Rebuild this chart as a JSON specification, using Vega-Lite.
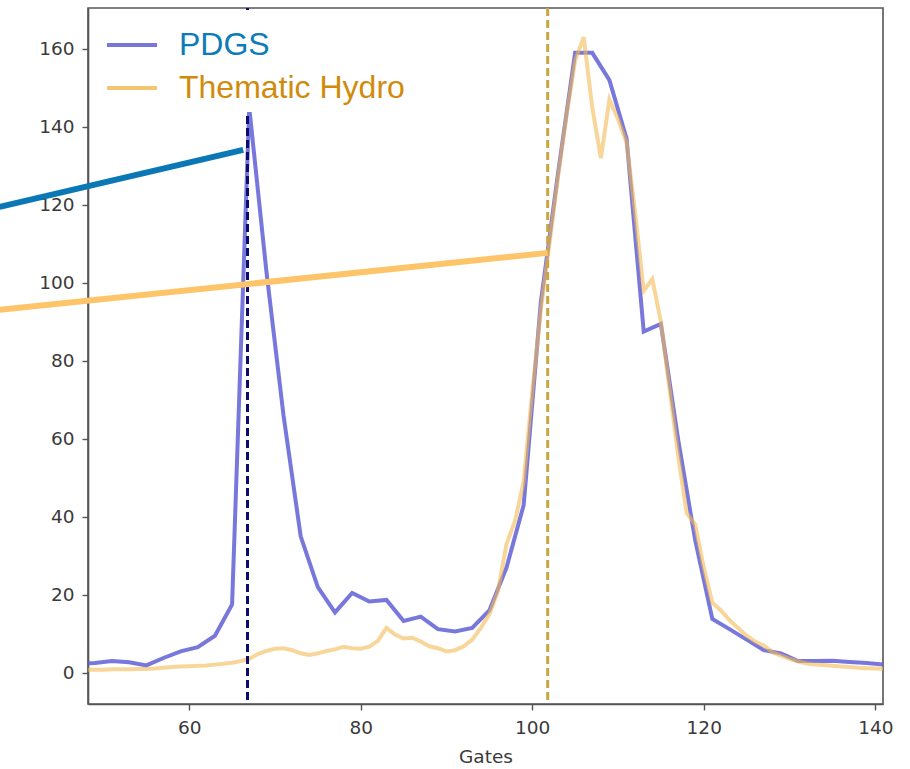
{
  "$schema": "https://vega.github.io/schema/vega-lite/v6.json",
  "width": 795,
  "height": 696,
  "autosize": {"type": "none"},
  "padding": {"left": 88, "top": 8, "right": 27, "bottom": 65},
  "background": "white",
  "config": {
    "view": {"stroke": "#555555", "strokeWidth": 1.6},
    "axis": {"grid": false, "domainColor": "#555555", "domainWidth": 1.6, "tickColor": "#555555", "tickWidth": 1.4, "tickSize": 6, "labelFont": "DejaVu Sans", "labelFontSize": 18.5, "labelColor": "#3a3a3a", "labelPadding": 8, "titleFont": "DejaVu Sans", "titleFontSize": 18.5, "titleFontWeight": "normal", "titleColor": "#3a3a3a"}
  },
  "datasets": {
    "pdgs": [
      {"gate": 47, "value": 2.3, "series": "PDGS"}, {"gate": 49, "value": 2.5, "series": "PDGS"}, {"gate": 51, "value": 3.0, "series": "PDGS"}, {"gate": 53, "value": 2.7, "series": "PDGS"}, {"gate": 55, "value": 1.9, "series": "PDGS"}, {"gate": 57, "value": 3.8, "series": "PDGS"}, {"gate": 59, "value": 5.5, "series": "PDGS"}, {"gate": 61, "value": 6.6, "series": "PDGS"}, {"gate": 63, "value": 9.5, "series": "PDGS"}, {"gate": 65, "value": 17.5, "series": "PDGS"}, {"gate": 67, "value": 145, "series": "PDGS"}, {"gate": 69, "value": 103, "series": "PDGS"}, {"gate": 71, "value": 66, "series": "PDGS"}, {"gate": 73, "value": 35, "series": "PDGS"}, {"gate": 75, "value": 22, "series": "PDGS"}, {"gate": 77, "value": 15.5, "series": "PDGS"}, {"gate": 79, "value": 20.5, "series": "PDGS"}, {"gate": 81, "value": 18.3, "series": "PDGS"}, {"gate": 83, "value": 18.7, "series": "PDGS"}, {"gate": 85, "value": 13.3, "series": "PDGS"}, {"gate": 87, "value": 14.4, "series": "PDGS"}, {"gate": 89, "value": 11.2, "series": "PDGS"}, {"gate": 91, "value": 10.6, "series": "PDGS"}, {"gate": 93, "value": 11.5, "series": "PDGS"}, {"gate": 95, "value": 16, "series": "PDGS"}, {"gate": 97, "value": 27, "series": "PDGS"}, {"gate": 99, "value": 43, "series": "PDGS"}, {"gate": 101, "value": 95, "series": "PDGS"}, {"gate": 103, "value": 128, "series": "PDGS"}, {"gate": 105, "value": 159, "series": "PDGS"}, {"gate": 107, "value": 159, "series": "PDGS"}, {"gate": 109, "value": 152, "series": "PDGS"}, {"gate": 111, "value": 137, "series": "PDGS"}, {"gate": 113, "value": 87.5, "series": "PDGS"}, {"gate": 115, "value": 89.5, "series": "PDGS"}, {"gate": 117, "value": 60, "series": "PDGS"}, {"gate": 119, "value": 34, "series": "PDGS"}, {"gate": 121, "value": 13.8, "series": "PDGS"}, {"gate": 123, "value": 11.2, "series": "PDGS"}, {"gate": 125, "value": 8.5, "series": "PDGS"}, {"gate": 127, "value": 5.8, "series": "PDGS"}, {"gate": 129, "value": 5.0, "series": "PDGS"}, {"gate": 131, "value": 3.0, "series": "PDGS"}, {"gate": 133, "value": 3.0, "series": "PDGS"}, {"gate": 135, "value": 3.1, "series": "PDGS"}, {"gate": 137, "value": 2.8, "series": "PDGS"}, {"gate": 139, "value": 2.5, "series": "PDGS"}, {"gate": 141, "value": 2.1, "series": "PDGS"}, {"gate": 143, "value": 2.0, "series": "PDGS"}
    ],
    "hydro": [
      {"gate": 47, "value": 0.8, "series": "Thematic Hydro"}, {"gate": 48, "value": 0.8, "series": "Thematic Hydro"}, {"gate": 49, "value": 0.8, "series": "Thematic Hydro"}, {"gate": 50, "value": 0.8, "series": "Thematic Hydro"}, {"gate": 51, "value": 0.9, "series": "Thematic Hydro"}, {"gate": 52, "value": 0.9, "series": "Thematic Hydro"}, {"gate": 53, "value": 0.9, "series": "Thematic Hydro"}, {"gate": 54, "value": 1.0, "series": "Thematic Hydro"}, {"gate": 55, "value": 1.0, "series": "Thematic Hydro"}, {"gate": 56, "value": 1.1, "series": "Thematic Hydro"}, {"gate": 57, "value": 1.3, "series": "Thematic Hydro"}, {"gate": 58, "value": 1.5, "series": "Thematic Hydro"}, {"gate": 59, "value": 1.6, "series": "Thematic Hydro"}, {"gate": 60, "value": 1.7, "series": "Thematic Hydro"}, {"gate": 61, "value": 1.8, "series": "Thematic Hydro"}, {"gate": 62, "value": 1.9, "series": "Thematic Hydro"}, {"gate": 63, "value": 2.1, "series": "Thematic Hydro"}, {"gate": 64, "value": 2.3, "series": "Thematic Hydro"}, {"gate": 65, "value": 2.6, "series": "Thematic Hydro"}, {"gate": 66, "value": 3.0, "series": "Thematic Hydro"}, {"gate": 67, "value": 3.6, "series": "Thematic Hydro"}, {"gate": 68, "value": 4.8, "series": "Thematic Hydro"}, {"gate": 69, "value": 5.6, "series": "Thematic Hydro"}, {"gate": 70, "value": 6.2, "series": "Thematic Hydro"}, {"gate": 71, "value": 6.3, "series": "Thematic Hydro"}, {"gate": 72, "value": 5.8, "series": "Thematic Hydro"}, {"gate": 73, "value": 5.0, "series": "Thematic Hydro"}, {"gate": 74, "value": 4.6, "series": "Thematic Hydro"}, {"gate": 75, "value": 5.0, "series": "Thematic Hydro"}, {"gate": 76, "value": 5.6, "series": "Thematic Hydro"}, {"gate": 77, "value": 6.0, "series": "Thematic Hydro"}, {"gate": 78, "value": 6.7, "series": "Thematic Hydro"}, {"gate": 79, "value": 6.3, "series": "Thematic Hydro"}, {"gate": 80, "value": 6.2, "series": "Thematic Hydro"}, {"gate": 81, "value": 6.7, "series": "Thematic Hydro"}, {"gate": 82, "value": 8.2, "series": "Thematic Hydro"}, {"gate": 83, "value": 11.5, "series": "Thematic Hydro"}, {"gate": 84, "value": 9.8, "series": "Thematic Hydro"}, {"gate": 85, "value": 8.8, "series": "Thematic Hydro"}, {"gate": 86, "value": 9.0, "series": "Thematic Hydro"}, {"gate": 87, "value": 8.0, "series": "Thematic Hydro"}, {"gate": 88, "value": 6.8, "series": "Thematic Hydro"}, {"gate": 89, "value": 6.3, "series": "Thematic Hydro"}, {"gate": 90, "value": 5.5, "series": "Thematic Hydro"}, {"gate": 91, "value": 5.8, "series": "Thematic Hydro"}, {"gate": 92, "value": 6.8, "series": "Thematic Hydro"}, {"gate": 93, "value": 8.5, "series": "Thematic Hydro"}, {"gate": 94, "value": 11.5, "series": "Thematic Hydro"}, {"gate": 95, "value": 15, "series": "Thematic Hydro"}, {"gate": 96, "value": 21, "series": "Thematic Hydro"}, {"gate": 97, "value": 33, "series": "Thematic Hydro"}, {"gate": 98, "value": 39, "series": "Thematic Hydro"}, {"gate": 99, "value": 49, "series": "Thematic Hydro"}, {"gate": 100, "value": 72, "series": "Thematic Hydro"}, {"gate": 101, "value": 93, "series": "Thematic Hydro"}, {"gate": 102, "value": 110, "series": "Thematic Hydro"}, {"gate": 103, "value": 127, "series": "Thematic Hydro"}, {"gate": 104, "value": 143, "series": "Thematic Hydro"}, {"gate": 105, "value": 157, "series": "Thematic Hydro"}, {"gate": 106, "value": 163, "series": "Thematic Hydro"}, {"gate": 107, "value": 145, "series": "Thematic Hydro"}, {"gate": 108, "value": 132, "series": "Thematic Hydro"}, {"gate": 109, "value": 147, "series": "Thematic Hydro"}, {"gate": 110, "value": 142, "series": "Thematic Hydro"}, {"gate": 111, "value": 136, "series": "Thematic Hydro"}, {"gate": 112, "value": 118, "series": "Thematic Hydro"}, {"gate": 113, "value": 98, "series": "Thematic Hydro"}, {"gate": 114, "value": 101, "series": "Thematic Hydro"}, {"gate": 115, "value": 90, "series": "Thematic Hydro"}, {"gate": 116, "value": 73, "series": "Thematic Hydro"}, {"gate": 117, "value": 56, "series": "Thematic Hydro"}, {"gate": 118, "value": 41, "series": "Thematic Hydro"}, {"gate": 119, "value": 38, "series": "Thematic Hydro"}, {"gate": 120, "value": 27, "series": "Thematic Hydro"}, {"gate": 121, "value": 18, "series": "Thematic Hydro"}, {"gate": 122, "value": 16, "series": "Thematic Hydro"}, {"gate": 123, "value": 13.5, "series": "Thematic Hydro"}, {"gate": 124, "value": 11.5, "series": "Thematic Hydro"}, {"gate": 125, "value": 9.5, "series": "Thematic Hydro"}, {"gate": 126, "value": 8.0, "series": "Thematic Hydro"}, {"gate": 127, "value": 7.0, "series": "Thematic Hydro"}, {"gate": 128, "value": 5.3, "series": "Thematic Hydro"}, {"gate": 129, "value": 4.4, "series": "Thematic Hydro"}, {"gate": 130, "value": 3.6, "series": "Thematic Hydro"}, {"gate": 131, "value": 2.9, "series": "Thematic Hydro"}, {"gate": 132, "value": 2.4, "series": "Thematic Hydro"}, {"gate": 133, "value": 2.1, "series": "Thematic Hydro"}, {"gate": 134, "value": 2.0, "series": "Thematic Hydro"}, {"gate": 135, "value": 1.8, "series": "Thematic Hydro"}, {"gate": 136, "value": 1.6, "series": "Thematic Hydro"}, {"gate": 137, "value": 1.5, "series": "Thematic Hydro"}, {"gate": 138, "value": 1.3, "series": "Thematic Hydro"}, {"gate": 139, "value": 1.2, "series": "Thematic Hydro"}, {"gate": 140, "value": 1.1, "series": "Thematic Hydro"}, {"gate": 141, "value": 1.0, "series": "Thematic Hydro"}, {"gate": 142, "value": 1.0, "series": "Thematic Hydro"}
    ],
    "peaks": [
      {"gate": 66.8, "series": "PDGS"},
      {"gate": 101.8, "series": "Thematic Hydro"}
    ],
    "callouts": [
      {"series": "PDGS", "x1": 37.9, "y1": 119.5, "x2": 66.3, "y2": 134.1},
      {"series": "Thematic Hydro", "x1": 37.9, "y1": 93.1, "x2": 101.8, "y2": 107.7}
    ]
  },
  "layer": [
    {
      "data": {"name": "pdgs"},
      "mark": {"type": "line", "strokeWidth": 4, "clip": true, "opacity": 0.85},
      "encoding": {
        "x": {"field": "gate", "type": "quantitative", "scale": {"domain": [48.2, 140.9], "nice": false, "zero": false},
          "axis": {"values": [60, 80, 100, 120, 140], "title": "Gates", "titlePadding": 11}},
        "y": {"field": "value", "type": "quantitative", "scale": {"domain": [-8, 170.5], "nice": false, "zero": false},
          "axis": {"values": [0, 20, 40, 60, 80, 100, 120, 140, 160], "title": null}},
        "color": {"field": "series", "type": "nominal",
          "scale": {"domain": ["PDGS", "Thematic Hydro"], "range": ["#5f5fd6", "#f3bb55"]},
          "legend": {"orient": "none", "legendX": 9, "legendY": 2, "title": null, "symbolType": "stroke", "symbolSize": 2500, "symbolStrokeWidth": 4, "symbolOpacity": 0.85, "labelFontSize": 32, "labelFont": "Liberation Sans", "labelOffset": 20, "rowPadding": -16, "padding": 8, "fillColor": "white", "labelLimit": 400,
            "encode": {"labels": {"update": {"fill": {"signal": "datum.label === 'PDGS' ? '#0b7cb8' : '#d18b0c'"}}}}}
        }
      }
    },
    {
      "data": {"name": "hydro"},
      "mark": {"type": "line", "strokeWidth": 4, "clip": true, "opacity": 0.6},
      "encoding": {
        "x": {"field": "gate", "type": "quantitative"},
        "y": {"field": "value", "type": "quantitative"},
        "color": {"field": "series", "type": "nominal"}
      }
    },
    {
      "data": {"name": "peaks"},
      "mark": {"type": "rule", "strokeWidth": 3, "strokeDash": [8, 4]},
      "encoding": {
        "x": {"field": "gate", "type": "quantitative"},
        "color": {"value": "#c9a640", "condition": {"test": "datum.series === 'PDGS'", "value": "#0b0b70"}}
      }
    },
    {
      "data": {"name": "callouts"},
      "mark": {"type": "rule", "strokeWidth": 6, "clip": false},
      "encoding": {
        "x": {"field": "x1", "type": "quantitative"},
        "y": {"field": "y1", "type": "quantitative"},
        "x2": {"field": "x2"},
        "y2": {"field": "y2"},
        "color": {"value": "#fdc46a", "condition": {"test": "datum.series === 'PDGS'", "value": "#0a78b4"}}
      }
    }
  ]
}
